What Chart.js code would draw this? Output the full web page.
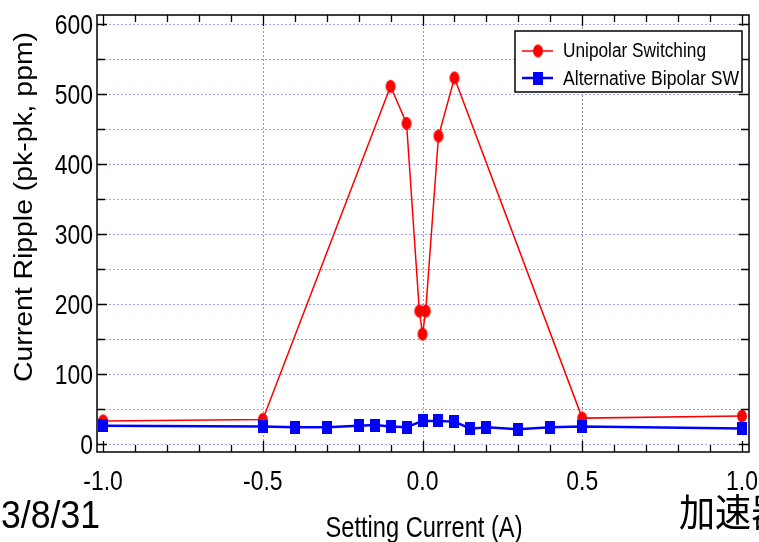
<!DOCTYPE html>
<html><head><meta charset="utf-8">
<script src="https://cdn.jsdelivr.net/npm/chart.js@4/dist/chart.umd.min.js"></script>
<style>html,body{margin:0;padding:0;background:#fff;overflow:hidden}canvas{display:block}</style>
</head><body>
<canvas id="c" width="759" height="542"></canvas>
<script>
// ---- data ----
const uniX = [-1.0, -0.5, -0.1, -0.05, -0.01, 0.0, 0.01, 0.05, 0.1, 0.5, 1.0];
const uniY = [33, 35, 511, 458, 190, 157, 190, 440, 523, 37, 40];
const biX = [-1.0, -0.5, -0.4, -0.3, -0.2, -0.15, -0.1, -0.05, 0.0, 0.05, 0.1, 0.15, 0.2, 0.3, 0.4, 0.5, 1.0];
const biY = [26, 25, 24, 24, 26, 27, 25, 24, 33, 33, 32, 22, 24, 21, 24, 25, 22];
const seriesNames = ['Unipolar Switching', 'Alternative Bipolar SW'];
const xTickValues = [-1.0, -0.5, 0.0, 0.5, 1.0];
const xTickLabels = ['-1.0', '-0.5', '0.0', '0.5', '1.0'];
const yTickValues = [0, 100, 200, 300, 400, 500, 600];
const yTickLabels = ['0', '100', '200', '300', '400', '500', '600'];
const xTitle = 'Setting Current (A)';
const yTitle = 'Current Ripple (pk-pk, ppm)';
const dateText = '3/8/31';
const cornerText = '加速器';

const RED = '#ff0000', BLUE = '#0000ff';
const FONT = '"Liberation Sans", Arial, sans-serif';

function ellipseImg(w, h, color) {
  const c = document.createElement('canvas');
  c.width = w + 2; c.height = h + 2;
  const g = c.getContext('2d');
  g.fillStyle = color;
  g.beginPath(); g.ellipse((w + 2) / 2, (h + 2) / 2, w / 2, h / 2, 0, 0, Math.PI * 2); g.fill();
  return c;
}
function rectImg(w, h, color) {
  const c = document.createElement('canvas');
  c.width = w; c.height = h;
  const g = c.getContext('2d');
  g.fillStyle = color; g.fillRect(0, 0, w, h);
  return c;
}
const redDot = ellipseImg(10, 13, RED);
const blueSq = rectImg(10, 13, BLUE);

function txt(ctx, s, x, y, font, sx, align) {
  ctx.save();
  ctx.font = font;
  ctx.translate(x, y);
  ctx.scale(sx, 1);
  ctx.textAlign = align || 'left';
  ctx.textBaseline = 'alphabetic';
  ctx.fillStyle = '#000';
  ctx.fillText(s, 0, 0);
  ctx.restore();
}
function fitW(ctx, s, font, target) {
  ctx.save(); ctx.font = font;
  const w = ctx.measureText(s).width; ctx.restore();
  return target / w;
}

const decor = {
  id: 'decor',
  beforeDatasetsDraw(chart) {
    const ctx = chart.ctx, a = chart.chartArea, xs = chart.scales.x, ys = chart.scales.y;
    ctx.save();
    ctx.lineWidth = 1;
    ctx.setLineDash([2, 2]);
    ctx.strokeStyle = 'rgba(120,120,255,0.7)';
    for (let v = 0; v <= 600; v += 50) {
      const y = Math.round(ys.getPixelForValue(v)) + 0.5;
      ctx.beginPath(); ctx.moveTo(a.left, y); ctx.lineTo(a.right, y); ctx.stroke();
    }
    [-0.5, 0, 0.5].forEach(v => {
      ctx.strokeStyle = v === 0 ? 'rgba(110,110,230,0.8)' : 'rgba(120,120,150,0.8)';
      const x = Math.round(xs.getPixelForValue(v)) + 0.5;
      ctx.beginPath(); ctx.moveTo(x, a.top); ctx.lineTo(x, a.bottom); ctx.stroke();
    });
    ctx.restore();
  },
  afterDatasetsDraw(chart) {
    const ctx = chart.ctx, a = chart.chartArea, xs = chart.scales.x, ys = chart.scales.y;
    ctx.save();
    ctx.setLineDash([]);
    ctx.strokeStyle = '#000';
    ctx.lineWidth = 1.5;
    ctx.strokeRect(a.left, a.top, a.right - a.left, a.bottom - a.top);
    ctx.lineWidth = 1.3;
    for (let i = -10; i <= 10; i++) {
      const v = i / 10;
      const x = Math.round(xs.getPixelForValue(v)) + 0.5;
      const L = (i % 5 === 0) ? 11 : 7;
      ctx.beginPath();
      ctx.moveTo(x, a.bottom); ctx.lineTo(x, a.bottom - L);
      ctx.moveTo(x, a.top); ctx.lineTo(x, a.top + L);
      ctx.stroke();
    }
    for (let v = 0; v <= 600; v += 50) {
      const y = Math.round(ys.getPixelForValue(v)) + 0.5;
      const L = (v % 100 === 0) ? 10 : 8;
      ctx.beginPath();
      ctx.moveTo(a.left, y); ctx.lineTo(a.left + L, y);
      ctx.moveTo(a.right, y); ctx.lineTo(a.right - L, y);
      ctx.stroke();
    }
    ctx.restore();

    const tickFont = '27px ' + FONT;
    yTickValues.forEach((v, i) => {
      txt(ctx, yTickLabels[i], a.left - 4, ys.getPixelForValue(v) + 10, tickFont, 0.85, 'right');
    });
    xTickValues.forEach((v, i) => {
      txt(ctx, xTickLabels[i], xs.getPixelForValue(v), a.bottom + 38, tickFont, 0.85, 'center');
    });

    const xf = '29px ' + FONT;
    txt(ctx, xTitle, 424, 537, xf, fitW(ctx, xTitle, xf, 197), 'center');
    ctx.save();
    ctx.translate(32, 207);
    ctx.rotate(-Math.PI / 2);
    const yf = '25px ' + FONT;
    const sy = fitW(ctx, yTitle, yf, 350);
    ctx.scale(sy, 1);
    ctx.font = yf;
    ctx.textAlign = 'center'; ctx.textBaseline = 'alphabetic'; ctx.fillStyle = '#000';
    ctx.fillText(yTitle, 0, 0);
    ctx.restore();

    const df = '39px ' + FONT;
    txt(ctx, dateText, 1, 528, df, fitW(ctx, dateText, df, 99), 'left');
    txt(ctx, cornerText, 679, 526, '38px "Noto Sans CJK JP", sans-serif', 0.95, 'left');

    ctx.save();
    ctx.fillStyle = '#fff';
    ctx.fillRect(515, 31, 227, 61);
    ctx.strokeStyle = '#000'; ctx.lineWidth = 1.5;
    ctx.strokeRect(515, 31, 227, 61);
    ctx.strokeStyle = RED; ctx.lineWidth = 1.5;
    ctx.beginPath(); ctx.moveTo(522, 51); ctx.lineTo(553, 51); ctx.stroke();
    ctx.drawImage(redDot, 538 - redDot.width / 2, 51 - redDot.height / 2);
    ctx.strokeStyle = BLUE; ctx.lineWidth = 2.5;
    ctx.beginPath(); ctx.moveTo(522, 78); ctx.lineTo(553, 78); ctx.stroke();
    ctx.drawImage(blueSq, 538 - blueSq.width / 2, 78 - blueSq.height / 2);
    ctx.restore();
    const lf = '20px ' + FONT;
    txt(ctx, seriesNames[0], 563, 57, lf, fitW(ctx, seriesNames[0], lf, 143), 'left');
    txt(ctx, seriesNames[1], 563, 85, lf, fitW(ctx, seriesNames[1], lf, 176), 'left');
  }
};

new Chart(document.getElementById('c'), {
  type: 'scatter',
  data: {
    datasets: [
      {
        label: seriesNames[0],
        data: uniX.map((x, i) => ({ x: x, y: uniY[i] })),
        showLine: true, borderColor: RED, borderWidth: 1.5, backgroundColor: RED,
        pointStyle: redDot, pointRadius: 5, tension: 0, order: 1
      },
      {
        label: seriesNames[1],
        data: biX.map((x, i) => ({ x: x, y: biY[i] })),
        showLine: true, borderColor: BLUE, borderWidth: 2.5, backgroundColor: BLUE,
        pointStyle: blueSq, pointRadius: 5, tension: 0, order: 0
      }
    ]
  },
  options: {
    responsive: false,
    animation: false,
    devicePixelRatio: 1,
    layout: { padding: { left: 97, right: 10, top: 15, bottom: 90 } },
    plugins: { legend: { display: false }, tooltip: { enabled: false } },
    scales: {
      x: { type: 'linear', min: -1.019, max: 1.022, display: false },
      y: { type: 'linear', min: -11.4, max: 612.9, display: false }
    }
  },
  plugins: [decor]
});
</script>
</body></html>
